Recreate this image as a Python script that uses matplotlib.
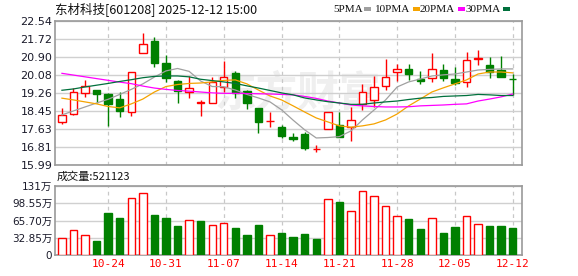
import numpy as np
import matplotlib
matplotlib.use('Agg')
import matplotlib.pyplot as plt
from matplotlib.patches import Rectangle

plt.rcParams['font.family'] = ['DejaVu Sans', 'Noto Sans CJK SC']

# ---- data (40 trading days, 10-20 .. 12-12) ----
dates = ['10-24', '10-31', '11-07', '11-14', '11-21', '11-28', '12-05', '12-12']
date_idx = [4, 9, 14, 19, 24, 29, 34, 39]

opens = [17.94, 18.30, 19.25, 19.39, 19.22, 18.99, 18.39, 21.07, 21.63, 20.62,
         19.81, 19.30, 18.80, 18.80, 19.55, 20.16, 19.37, 18.57, 17.97, 17.71,
         17.28, 17.40, 16.70, 17.63, 17.81, 17.71, 18.75, 18.95, 19.59, 20.21,
         20.36, 19.92, 19.94, 20.31, 19.90, 19.75, 20.80, 20.54, 20.30, 19.91]
closes = [18.27, 19.30, 19.59, 19.22, 18.75, 18.46, 20.24, 21.48, 20.65, 19.96,
          19.36, 19.48, 18.87, 19.78, 20.01, 19.28, 18.83, 17.96, 17.98, 17.33,
          17.18, 16.78, 16.72, 18.42, 17.28, 18.03, 19.30, 19.54, 19.98, 20.34,
          20.14, 19.80, 20.34, 19.96, 19.74, 20.77, 20.87, 20.24, 20.01, 19.90]
highs = [18.57, 19.48, 19.84, 19.40, 19.27, 19.30, 20.24, 22.00, 21.81, 21.00,
         19.85, 20.04, 18.95, 20.01, 20.72, 20.27, 19.40, 18.57, 18.42, 17.81,
         17.44, 17.48, 16.90, 18.42, 18.42, 18.62, 19.68, 20.04, 20.80, 20.57,
         20.57, 20.27, 21.10, 20.59, 20.46, 21.14, 21.24, 20.89, 20.95, 20.12]
lows = [17.84, 18.28, 19.10, 18.83, 17.78, 18.19, 18.24, 21.07, 20.46, 19.78,
        18.83, 19.05, 18.24, 18.80, 19.33, 19.03, 18.53, 17.44, 17.74, 17.24,
        17.09, 16.68, 16.57, 17.63, 17.26, 17.10, 18.50, 18.65, 19.40, 19.81,
        19.86, 19.68, 19.78, 19.83, 19.63, 19.55, 20.54, 19.94, 20.01, 19.18]

# volume in 万
vols = [33.0, 47.0, 38.7, 25.9, 79.6, 70.0, 107.8, 117.4, 75.8, 70.0,
        54.7, 67.5, 64.3, 57.9, 61.8, 52.2, 37.4, 56.6, 38.7, 41.2,
        33.6, 39.3, 29.7, 105.9, 100.7, 83.4, 121.2, 111.6, 92.4, 75.2,
        68.1, 48.9, 71.3, 41.2, 52.7, 75.2, 59.8, 54.7, 54.7, 52.11]

ma5 = [18.27, 18.45, 18.63, 18.81, 18.98, 19.20, 19.43, 19.68, 19.99, 20.27,
       20.38, 20.25, 19.81, 19.56, 19.55, 19.40, 19.20, 19.04, 18.86, 18.50,
       18.03, 17.59, 17.22, 17.24, 17.28, 17.54, 18.04, 18.49, 18.95, 19.54,
       19.77, 19.90, 20.04, 20.09, 20.13, 20.22, 20.31, 20.34, 20.36, 20.36]
ma10 = [19.03, 18.95, 18.86, 18.77, 18.65, 18.59, 18.77, 18.99, 19.31, 19.56,
        19.65, 19.70, 19.72, 19.77, 19.84, 19.86, 19.68, 19.40, 19.13, 18.95,
        18.68, 18.40, 18.13, 17.95, 17.77, 17.71, 17.77, 17.86, 18.04, 18.31,
        18.68, 18.99, 19.31, 19.50, 19.68, 19.86, 20.13, 20.22, 20.22, 20.18]
ma20 = [20.16, 20.08, 20.00, 19.92, 19.84, 19.76, 19.69, 19.58, 19.49, 19.43,
        19.38, 19.35, 19.31, 19.27, 19.25, 19.25, 19.24, 19.23, 19.22, 19.20,
        19.18, 19.11, 19.02, 18.90, 18.81, 18.72, 18.68, 18.65, 18.63, 18.63,
        18.64, 18.68, 18.70, 18.72, 18.75, 18.77, 18.90, 18.99, 19.09, 19.22]
ma30 = [19.39, 19.45, 19.54, 19.62, 19.70, 19.79, 19.87, 19.96, 20.02, 20.04,
        20.04, 20.00, 19.89, 19.83, 19.77, 19.70, 19.59, 19.49, 19.38, 19.27,
        19.18, 19.04, 18.95, 18.87, 18.81, 18.75, 18.75, 18.81, 18.86, 18.90,
        18.97, 19.03, 19.06, 19.11, 19.13, 19.15, 19.20, 19.18, 19.15, 19.15]

price_ticks = [15.99, 16.81, 17.63, 18.45, 19.26, 20.08, 20.90, 21.72, 22.54]
vol_ticks = [0, 32.85, 65.70, 98.55, 131.4]
vol_labels = ['0', '32.85万', '65.70万', '98.55万', '131万']

RED = '#ff0000'
GREEN = '#008000'
ma_colors = ['#a0a0a0', '#f5a300', '#ff00ff', '#00703c']
ma_names = ['5PMA', '10PMA', '20PMA', '30PMA']

fig = plt.figure(figsize=(5.78, 2.76), dpi=100)
ax = fig.add_axes([55 / 578, 1 - 165 / 276, 467 / 578, 144 / 276])
axv = fig.add_axes([55 / 578, 1 - 255 / 276, 467 / 578, 69 / 276])

x = np.arange(len(closes))
o = np.array(opens); c = np.array(closes)
up = c >= o
prev = np.concatenate([[o[0]], c[:-1]])
vol_up = c >= prev

# watermark
ax.text(0.52, 0.50, '东方财富', transform=ax.transAxes, fontsize=30,
        family=['Noto Sans CJK SC'], color='#efefef', ha='center',
        va='center', style='italic', fontweight='bold', zorder=0)

# ---- candles ----
w = 0.64
ax.vlines(x, lows, highs, colors=[RED if u else GREEN for u in up],
          linewidth=1, zorder=3)
body_lo = np.minimum(o, c)
body_h = np.maximum(np.abs(c - o), 0.005)
ax.bar(x[up], body_h[up], w, bottom=body_lo[up], facecolor='white',
       edgecolor=RED, linewidth=1, zorder=4)
ax.bar(x[~up], body_h[~up], w, bottom=body_lo[~up], facecolor=GREEN,
       edgecolor=GREEN, linewidth=1, zorder=4)

for ma, col in zip([ma5, ma10, ma20, ma30], ma_colors):
    ax.plot(x, ma, color=col, linewidth=0.9, zorder=5)

ax.set_xlim(-0.6, 39.8)
ax.set_ylim(15.99, 22.54)
ax.set_yticks(price_ticks)
ax.set_yticklabels([f'{t:.2f}' for t in price_ticks])
ax.set_xticks(date_idx)
ax.set_xticklabels([])

# ---- volume ----
vol = np.array(vols)
axv.bar(x[vol_up], vol[vol_up], w, facecolor='white', edgecolor=RED,
        linewidth=1, zorder=3)
axv.bar(x[~vol_up], vol[~vol_up], w, facecolor=GREEN, edgecolor=GREEN,
        linewidth=1, zorder=3)
axv.set_xlim(-0.6, 39.8)
axv.set_ylim(0, 131.4)
axv.set_yticks(vol_ticks)
axv.set_yticklabels(vol_labels, family=['DejaVu Sans', 'Noto Sans CJK SC'])
axv.set_xticks(date_idx)
axv.set_xticklabels(dates, color=RED, fontsize=7.5, family='DejaVu Sans Mono')

for a in (ax, axv):
    a.set_axisbelow(True)
    a.grid(axis='y', color='#d0d0d0', linewidth=1, linestyle='-')
    a.grid(axis='x', color='#c8c8c8', linewidth=0.9, linestyle=(0, (3, 3)))
    a.tick_params(length=0, pad=2, labelsize=8, labelcolor='#1a1a2a')
    for s in a.spines.values():
        s.set_color('#999999')
        s.set_linewidth(1.2)
axv.tick_params(axis='y', labelsize=7.5)
axv.tick_params(axis='x', labelcolor=RED, pad=3)

# ---- header texts ----
fig.text(55 / 578, 1 - 9 / 276, '东材科技[601208] 2025-12-12 15:00',
         family=['Noto Sans CJK SC', 'DejaVu Sans'], fontsize=9,
         color='#111111', va='center', ha='left')
label_x = [333, 375, 420, 465]
marker_x = [364, 413, 458, 503]
for lx, mx, name, col in zip(label_x, marker_x, ma_names, ma_colors):
    fig.text(lx / 578, 1 - 9 / 276, name, family='Liberation Serif',
             fontsize=8, color='#111111', va='center', ha='left')
    fig.patches.append(Rectangle((mx / 578, 1 - 11 / 276), 7 / 578, 4 / 276,
                                 transform=fig.transFigure,
                                 facecolor=col, edgecolor='none'))

fig.text(57 / 578, 1 - 177 / 276, '成交量:521123',
         family=['Noto Sans CJK SC', 'DejaVu Sans'], fontsize=8,
         color='#111111', va='center', ha='left')

fig.savefig('out.png', dpi=100, facecolor='white')
